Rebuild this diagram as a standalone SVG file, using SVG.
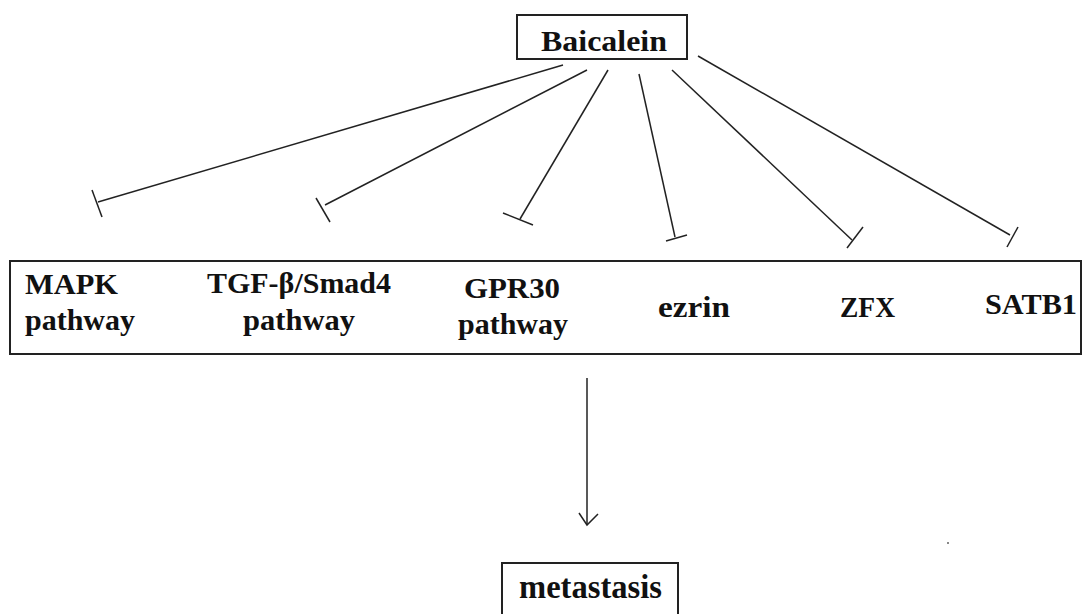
<svg xmlns="http://www.w3.org/2000/svg" width="1084" height="614" viewBox="0 0 1084 614">
<style>
.box{fill:#fff;stroke:#222;stroke-width:2}
.t{font-family:"Liberation Serif","Times New Roman",serif;font-weight:bold;fill:#111}
.c{stroke:#222;stroke-width:1.5;fill:none}
</style>
<defs>
<marker id="open" viewBox="0 0 20 20" refX="10" refY="18" markerWidth="20" markerHeight="20" markerUnits="userSpaceOnUse" orient="auto-start-reverse">
</marker>
</defs>
<rect width="1084" height="614" fill="#fff"/>
<g id="baicalein">
<rect class="box" x="517" y="15" width="170" height="44"/>
<text class="t" x="541" y="51" font-size="30" textLength="126" lengthAdjust="spacingAndGlyphs">Baicalein</text>
</g>
<g id="targets">
<rect class="box" x="10" y="261" width="1071" height="93"/>
<text class="t" x="25" y="294" font-size="30" textLength="93" lengthAdjust="spacingAndGlyphs">MAPK</text>
<text class="t" x="25" y="330" font-size="30" textLength="110" lengthAdjust="spacingAndGlyphs">pathway</text>
<text class="t" x="207" y="293" font-size="30" textLength="184" lengthAdjust="spacingAndGlyphs">TGF-β/Smad4</text>
<text class="t" x="243" y="330" font-size="30" textLength="112" lengthAdjust="spacingAndGlyphs">pathway</text>
<text class="t" x="464" y="298" font-size="30" textLength="96" lengthAdjust="spacingAndGlyphs">GPR30</text>
<text class="t" x="458" y="334" font-size="30" textLength="110" lengthAdjust="spacingAndGlyphs">pathway</text>
<text class="t" x="658" y="317" font-size="30" textLength="72" lengthAdjust="spacingAndGlyphs">ezrin</text>
<text class="t" x="840" y="317" font-size="30" textLength="55" lengthAdjust="spacingAndGlyphs">ZFX</text>
<text class="t" x="985" y="314" font-size="30" textLength="92" lengthAdjust="spacingAndGlyphs">SATB1</text>
</g>
<g id="metastasis">
<rect class="box" x="502" y="563" width="176" height="60"/>
<text class="t" x="519" y="598" font-size="34" textLength="143" lengthAdjust="spacingAndGlyphs">metastasis</text>
</g>
<g id="connectors">
<line class="c" x1="563" y1="65" x2="98" y2="202"/>
<line class="c" x1="92" y1="190" x2="102" y2="217"/>
<line class="c" x1="587" y1="70" x2="325" y2="205"/>
<line class="c" x1="316" y1="198" x2="330" y2="222"/>
<line class="c" x1="608" y1="70" x2="520" y2="219"/>
<line class="c" x1="503" y1="213" x2="533" y2="225"/>
<line class="c" x1="639" y1="74" x2="675" y2="237"/>
<line class="c" x1="666" y1="241" x2="687" y2="235"/>
<line class="c" x1="672" y1="70" x2="852" y2="240"/>
<line class="c" x1="847" y1="248" x2="863" y2="227"/>
<line class="c" x1="698" y1="56" x2="1010" y2="235"/>
<line class="c" x1="1007" y1="247" x2="1018" y2="227"/>
<line class="c" x1="587" y1="378" x2="587" y2="525"/>
<polyline class="c" points="579,513 587,525 598,514"/>
</g>
<rect x="947" y="542" width="2" height="2" fill="#888"/>
</svg>
